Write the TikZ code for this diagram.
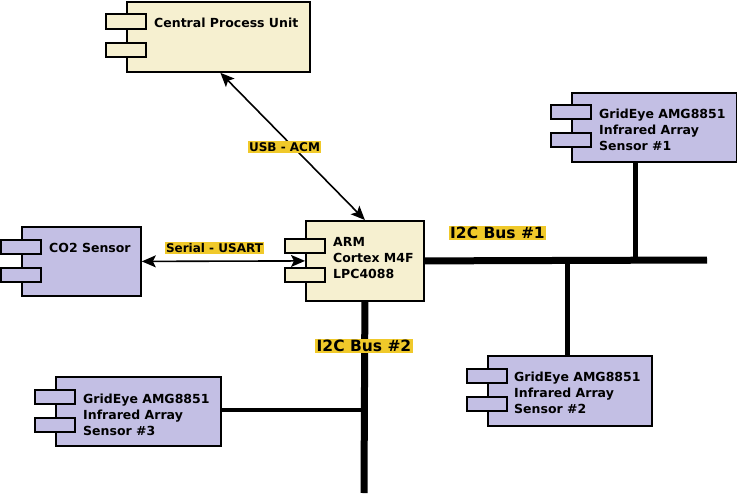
\documentclass[tikz,border=0pt]{standalone}
\usepackage{fontspec}
\setmainfont{DejaVu Sans}
\usetikzlibrary{arrows.meta}
\definecolor{beige}{HTML}{F6F0D0}
\definecolor{lav}{HTML}{C3BFE4}
\definecolor{lblyellow}{HTML}{F0C92A}
\begin{document}
\begin{tikzpicture}[x=1pt,y=-1pt,
  comp/.style={draw=black, line width=1.8pt, inner sep=0pt, anchor=north west},
  tab/.style={draw=black, line width=1.8pt},
  btext/.style={font=\fontsize{12.5}{16}\selectfont\bfseries, align=left, inner sep=0pt, anchor=base west},
  lbl/.style={fill=lblyellow, font=\fontsize{12}{13}\selectfont\bfseries, inner xsep=1.5pt, inner ysep=1.5pt},
  buslbl/.style={fill=lblyellow, font=\fontsize{15.5}{18}\selectfont\bfseries, inner xsep=1.5pt, inner ysep=1.5pt},
  tipstyle/.tip={Stealth[length=14pt,width=12pt,inset=3pt]},
  conn/.style={line width=1.6pt, tipstyle-tipstyle},
  bus/.style={line width=7pt},
  tapline/.style={line width=4.5pt}]
\useasboundingbox (0,0) rectangle (737,499);
% CPU
\node[comp, fill=beige, minimum width=183pt, minimum height=70pt] (cpu) at (126,1) {};
\draw[tab, fill=beige] (106,14) rectangle (146,29);
\draw[tab, fill=beige] (106,43) rectangle (146,57);
\node[btext] (cput) at (154,27) {Central Process Unit};
% ARM
\node[comp, fill=beige, minimum width=118pt, minimum height=80pt] (arm) at (305,220) {};
\draw[tab, fill=beige] (285,239) rectangle (325,253);
\draw[tab, fill=beige] (285,268) rectangle (325,282);
\node[btext] (armt) at (333,278) {ARM\\Cortex M4F\\LPC4088};
% CO2
\node[comp, fill=lav, minimum width=119pt, minimum height=69pt] (co2) at (21,226) {};
\draw[tab, fill=lav] (1,240) rectangle (41,254);
\draw[tab, fill=lav] (1,268) rectangle (41,282);
\node[btext] (co2t) at (49,252) {CO2 Sensor};
% Sensor 1
\node[comp, fill=lav, minimum width=165pt, minimum height=69pt] (s1) at (571,92) {};
\draw[tab, fill=lav] (551,105) rectangle (591,119);
\draw[tab, fill=lav] (551,133) rectangle (591,147);
\node[btext] (s1t) at (599,150) {GridEye AMG8851\\Infrared Array\\Sensor \#1};
% Sensor 2
\node[comp, fill=lav, minimum width=164pt, minimum height=70pt] (s2) at (487,355) {};
\draw[tab, fill=lav] (467,369) rectangle (507,383);
\draw[tab, fill=lav] (467,397) rectangle (507,411);
\node[btext] (s2t) at (514,413) {GridEye AMG8851\\Infrared Array\\Sensor \#2};
% Sensor 3
\node[comp, fill=lav, minimum width=165pt, minimum height=69pt] (s3) at (55,376) {};
\draw[tab, fill=lav] (35,390) rectangle (75,404);
\draw[tab, fill=lav] (35,418) rectangle (75,432);
\node[btext] (s3t) at (83,435) {GridEye AMG8851\\Infrared Array\\Sensor \#3};
% buses
\coordinate (b1end) at (707,260);
\coordinate (b2end) at (364,493);
\coordinate (t1) at (635.5,260);
\coordinate (t2) at (567.5,260);
\coordinate (t3) at (364,410);
\draw[bus] (arm.east) -- (b1end);
\draw[bus] (arm.south) -- (b2end);
\draw[tapline] (t1 |- s1.south) -- (t1);
\draw[tapline] (t2) -- (t2 |- s2.north);
\draw[tapline] (s3.east |- t3) -- (t3);
% connectors
\draw[conn] ([xshift=2pt]cpu.south) -- (arm.north);
\draw[conn] (co2.east) -- (arm.west);
% labels
\node[lbl] (usb) at (284.5,147) {USB - ACM};
\node[lbl] (ser) at (214.5,248) {Serial - USART};
\node[buslbl] (bl1) at (497.5,233) {I2C Bus \#1};
\node[buslbl] (bl2) at (364,346) {I2C Bus \#2};
\end{tikzpicture}
\end{document}
